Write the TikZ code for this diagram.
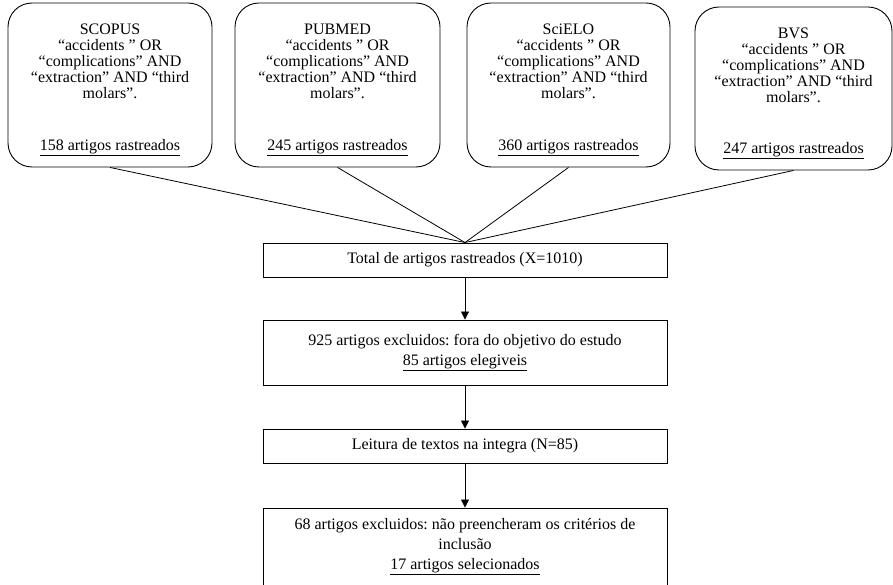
\documentclass[tikz,border=0pt]{standalone}
\usepackage{fontspec}
\setmainfont{Liberation Serif}
\usetikzlibrary{arrows.meta}
\begin{document}
\begin{tikzpicture}[x=1pt,y=-1pt,
  every node/.style={font=\fontsize{16}{20}\selectfont, inner sep=0pt},
  dbbox/.style={draw, rounded corners=24pt, line width=0.9pt},
  flowbox/.style={draw, line width=0.9pt, rectangle},
  txt/.style={align=center, anchor=north, font=\fontsize{16}{16}\selectfont},
  link/.style={line width=0.8pt},
  arr/.style={line width=0.8pt, -{Triangle[length=8pt,width=8pt]}}]
\useasboundingbox (0,0) rectangle (893,585);
% database boxes
\node[dbbox, minimum width=204pt, minimum height=164pt] (s1) at (110,85) {};
\node[dbbox, minimum width=205pt, minimum height=164pt] (s2) at (337.5,85) {};
\node[dbbox, minimum width=203pt, minimum height=164pt] (s3) at (568.5,85) {};
\node[dbbox, minimum width=197pt, minimum height=163pt] (s4) at (793.5,88.5) {};
\foreach \n/\name in {s1/SCOPUS, s2/PUBMED, s3/SciELO, s4/BVS}{
  \node[txt] (\n t) at ([yshift=-21pt]\n.north) {\name\\“accidents ” OR\\“complications” AND\\“extraction” AND “third\\molars”.};
}
\node (s1c) at ([yshift=20pt]s1.south) {\underline{158\ artigos rastreados}};
\node (s2c) at ([yshift=20pt]s2.south) {\underline{245\ artigos rastreados}};
\node (s3c) at ([yshift=20pt]s3.south) {\underline{360\ artigos rastreados}};
\node (s4c) at ([yshift=20pt]s4.south) {\underline{247\ artigos rastreados}};
% flow boxes
\node[flowbox, minimum width=404pt, minimum height=34pt] (tot) at (465,260) {Total de artigos rastreados (X=1010)};
\node[flowbox, minimum width=404pt, minimum height=65pt, align=center] (exc) at (465,352.5) {925\ artigos excluidos:\ fora do objetivo do estudo\\\underline{85\ artigos elegiveis}};
\node[flowbox, minimum width=404pt, minimum height=34pt] (lei) at (465,446) {Leitura\ de textos na integra (N=85)};
\node[flowbox, minimum width=404pt, minimum height=77pt, align=center] (fin) at (465,546.5) {68\ artigos excluidos:\ não preencheram\ os critérios\ de\\inclusão\\\underline{17\ artigos selecionados}};
% connectors
\foreach \n in {s1,s2,s3,s4}{\draw[link] (\n.south) -- (tot.north);}
\draw[arr] (tot.south) -- (exc.north);
\draw[arr] (exc.south) -- (lei.north);
\draw[arr] (lei.south) -- (fin.north);
\end{tikzpicture}
\end{document}
